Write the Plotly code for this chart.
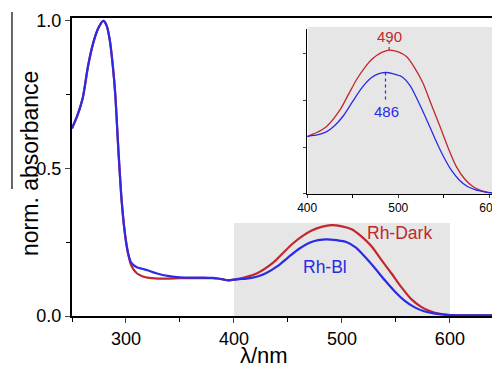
import plotly.graph_objects as go

# ---- data ----
wl_dark = [250, 255, 260, 265, 270, 275, 279, 282, 285, 288, 290, 293, 296, 299, 302, 305,
           310, 315, 320, 330, 340, 350, 360, 370, 380, 385, 390, 395, 400, 405, 410, 421, 436, 445, 454,
           463, 472, 482, 490, 500, 509, 518, 527, 536, 546, 555, 564, 573, 582, 591, 600, 620, 640]
abs_dark = [0.638, 0.68, 0.74, 0.85, 0.93, 0.98, 1.0, 0.985, 0.935, 0.84, 0.755, 0.56, 0.39, 0.28, 0.21, 0.17,
            0.145, 0.135, 0.13, 0.127, 0.127, 0.128, 0.128, 0.128, 0.128, 0.127, 0.124, 0.121, 0.123, 0.127, 0.131, 0.144, 0.18, 0.212, 0.244,
            0.27, 0.29, 0.303, 0.308, 0.304, 0.294, 0.27, 0.238, 0.193, 0.144, 0.098, 0.058, 0.032, 0.016, 0.007, 0.003, 0.002, 0.002]

wl_bl = [250, 255, 260, 265, 270, 275, 279, 282, 285, 288, 290, 293, 296, 299, 302, 305,
         310, 315, 320, 328, 340, 350, 370, 380, 385, 390, 395, 400, 405, 410, 421, 430, 440, 450, 460,
         470, 478, 486, 495, 504, 513, 522, 531, 540, 549, 558, 567, 576, 585, 594, 600, 620, 640]
abs_bl = [0.635, 0.68, 0.74, 0.85, 0.93, 0.98, 1.0, 0.985, 0.935, 0.84, 0.755, 0.56, 0.39, 0.28, 0.213, 0.18,
          0.165, 0.16, 0.155, 0.145, 0.135, 0.131, 0.13, 0.129, 0.127, 0.124, 0.121, 0.123, 0.125, 0.126, 0.133, 0.146, 0.168, 0.198, 0.227,
          0.248, 0.257, 0.26, 0.257, 0.251, 0.232, 0.198, 0.16, 0.12, 0.083, 0.052, 0.03, 0.016, 0.009, 0.005, 0.003, 0.002, 0.002]

peak_dark = 490
peak_bl = 486
peak_dark_val = 0.308
peak_bl_val = 0.26

RED = "#c0282d"
BLUE = "#2b2be6"
FONT = "Arial, Liberation Sans, sans-serif"

fig = go.Figure()

# main plot
fig.add_trace(go.Scatter(x=wl_dark, y=abs_dark, mode="lines",
                         line=dict(color=RED, width=2.2, shape="spline", smoothing=0.8),
                         xaxis="x", yaxis="y", showlegend=False))
fig.add_trace(go.Scatter(x=wl_bl, y=abs_bl, mode="lines",
                         line=dict(color=BLUE, width=2.2, shape="spline", smoothing=0.8),
                         xaxis="x", yaxis="y", showlegend=False))

# inset
ins_dark_x = [w for w in wl_dark if 400 <= w <= 620]
ins_dark_y = [a for w, a in zip(wl_dark, abs_dark) if 400 <= w <= 620]
ins_bl_x = [w for w in wl_bl if 400 <= w <= 620]
ins_bl_y = [a for w, a in zip(wl_bl, abs_bl) if 400 <= w <= 620]
fig.add_trace(go.Scatter(x=ins_dark_x, y=ins_dark_y, mode="lines",
                         line=dict(color=RED, width=1.3, shape="spline", smoothing=0.8),
                         xaxis="x2", yaxis="y2", showlegend=False))
fig.add_trace(go.Scatter(x=ins_bl_x, y=ins_bl_y, mode="lines",
                         line=dict(color=BLUE, width=1.3, shape="spline", smoothing=0.8),
                         xaxis="x2", yaxis="y2", showlegend=False))
# peak markers (dotted)
fig.add_trace(go.Scatter(x=[peak_dark, peak_dark], y=[peak_dark_val, peak_dark_val + 0.018], mode="lines",
                         line=dict(color=RED, width=1.2, dash="dot"), xaxis="x2", yaxis="y2", showlegend=False))
fig.add_trace(go.Scatter(x=[peak_bl, peak_bl], y=[peak_bl_val, peak_bl_val - 0.058], mode="lines",
                         line=dict(color=BLUE, width=1.2, dash="dot"), xaxis="x2", yaxis="y2", showlegend=False))

shapes = [
    # grey region on main plot
    dict(type="rect", xref="x", yref="y", x0=400, x1=600, y0=0, y1=0.315,
         fillcolor="#e6e6e6", line=dict(width=0), layer="below"),
    # inset background
    dict(type="rect", xref="paper", yref="paper", x0=0.562, x1=1.0, y0=0.4094, y1=0.970,
         fillcolor="#e6e6e6", line=dict(width=0), layer="below"),
    # stray vertical line at left edge
    dict(type="line", xref="paper", yref="paper", x0=-0.1429, x1=-0.1429, y0=1.0201, y1=0.4262,
         line=dict(color="black", width=1.2)),
]

annotations = [
    dict(text="norm. absorbance", xref="paper", yref="paper", x=-0.1, y=0.51, textangle=-90,
         showarrow=False, font=dict(family=FONT, size=23, color="black"), xanchor="center", yanchor="middle"),
    dict(text="λ/nm", xref="paper", yref="paper", x=0.457, y=-0.134, showarrow=False,
         font=dict(family=FONT, size=22, color="black"), xanchor="center", yanchor="middle"),
    dict(text="Rh-Dark", xref="x", yref="y", x=553.5, y=0.281, showarrow=False,
         font=dict(family=FONT, size=17.5, color=RED)),
    dict(text="Rh-Bl", xref="x", yref="y", x=484, y=0.166, showarrow=False,
         font=dict(family=FONT, size=17.5, color=BLUE)),
    dict(text="490", xref="x2", yref="y2", x=490.5, y=0.337, showarrow=False,
         font=dict(family=FONT, size=15, color=RED)),
    dict(text="486", xref="x2", yref="y2", x=487, y=0.177, showarrow=False,
         font=dict(family=FONT, size=15, color=BLUE)),
]

fig.update_layout(
    width=492, height=369,
    margin=dict(l=72, r=0, t=18, b=53, autoexpand=False),
    paper_bgcolor="white", plot_bgcolor="rgba(0,0,0,0)",
    font=dict(family=FONT, color="black"),
    shapes=shapes, annotations=annotations,
    xaxis=dict(domain=[0, 1], range=[250, 639], tick0=0, dtick=100, ticks="outside", ticklen=5,
               tickwidth=1.2, showline=True, linecolor="black", linewidth=2, mirror=True,
               showgrid=False, zeroline=False, tickfont=dict(size=18), automargin=False,
               minor=dict(dtick=50, ticks="outside", ticklen=4, tickcolor="black")),
    yaxis=dict(domain=[0, 1], range=[0, 1.01], tick0=0, dtick=0.5, tickformat=".1f", ticks="outside",
               ticklen=5, tickwidth=1.2, showline=True, linecolor="black", linewidth=2,
               showgrid=False, zeroline=False, tickfont=dict(size=18), automargin=False,
               minor=dict(dtick=0.25, ticks="outside", ticklen=4, tickcolor="black")),
    xaxis2=dict(domain=[0.560, 1.0], anchor="y2", range=[400, 603], tick0=0, dtick=100, ticks="outside",
                ticklen=3, showline=True, linecolor="black", linewidth=1.2, showgrid=False, zeroline=False,
                tickfont=dict(size=12), ticklabeloverflow="allow", automargin=False,
                minor=dict(dtick=50, ticks="outside", ticklen=3, tickcolor="black")),
    yaxis2=dict(domain=[0.4094, 0.963], anchor="x2", range=[0, 0.353], dtick=0.1, ticks="outside",
                ticklen=3, showline=True, linecolor="black", linewidth=1.2, showgrid=False, zeroline=False,
                showticklabels=False, automargin=False),
)

fig.write_html("out.html", config={"displayModeBar": False},
               post_script="document.body.style.margin='0';document.body.style.overflow='hidden';")
